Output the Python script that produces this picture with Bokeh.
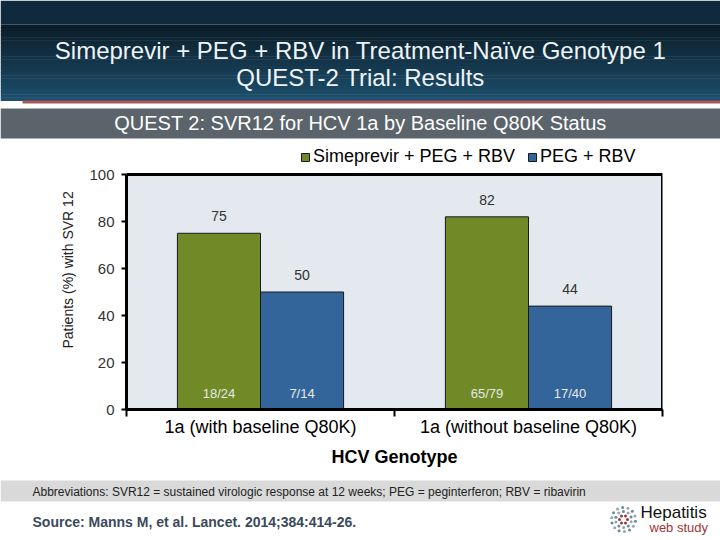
import math
from bokeh.plotting import figure
from bokeh.models import (Range1d, FixedTicker, Legend, LegendItem, Title, ColumnDataSource)
from bokeh.embed import file_html
from bokeh.resources import INLINE
from bokeh.core.properties import value

# ---------------- data ----------------
categories = ["1a (with baseline Q80K)", "1a (without baseline Q80K)"]
series = ["Simeprevir + PEG + RBV", "PEG + RBV"]
sim_values = [75, 82]
peg_values = [50, 44]
sim_counts = ["18/24", "65/79"]
peg_counts = ["7/14", "17/40"]
y_ticks = [0, 20, 40, 60, 80, 100]

FONT = "Liberation Sans"
GREEN = "#6f8a27"
BLUE = "#33659a"
W = 720


def panel(height, y_top, y_bottom):
    f = figure(width=W, height=height, x_range=Range1d(0, W),
               y_range=Range1d(y_bottom, y_top), x_axis_type=None, y_axis_type=None,
               output_backend="svg", toolbar_location=None, min_border=0)
    f.grid.visible = False
    f.outline_line_color = None
    f.background_fill_color = "white"
    f.border_fill_color = "white"
    return f


def hexmix(c1, c2, t):
    a = [int(c1[i:i + 2], 16) for i in (1, 3, 5)]
    b = [int(c2[i:i + 2], 16) for i in (1, 3, 5)]
    return "#" + "".join("%02x" % int(round(a[k] + (b[k] - a[k]) * t)) for k in range(3))


def txt(f, x, y, s, size, color, align="left", style="normal"):
    f.text(x=[x], y=[y], text=[s], text_align=align, text_baseline="middle",
           text_font=value(FONT), text_font_size=size, text_color=color, text_font_style=style)


# ---------------- header ----------------
hdr = panel(140, 0, 140)
hdr.quad(left=[0], right=[720], top=[0], bottom=[24], fill_color="#0e2a3c", line_color=None)
n = 24
tops = [24 + 76 * i / n for i in range(n)]
bots = [24 + 76 * (i + 1) / n + 0.5 for i in range(n)]
cols = [hexmix("#0b1d29", "#1d4e6b", i / (n - 1)) for i in range(n)]
hdr.quad(left=[0] * n, right=[720] * n, top=tops, bottom=bots, fill_color=cols, line_color=None)
hdr.quad(left=[22], right=[720], top=[100], bottom=[103], fill_color="#a85a5a", line_color=None)
hdr.quad(left=[0], right=[720], top=[108], bottom=[138], fill_color="#5b636b", line_color=None)
txt(hdr, 360, 50, "Simeprevir + PEG + RBV in Treatment-Naïve Genotype 1", "24px", "#eef4f6", "center")
txt(hdr, 360, 77, "QUEST-2 Trial: Results", "24px", "#eef4f6", "center")
txt(hdr, 360, 122, "QUEST 2: SVR12 for HCV 1a by Baseline Q80K Status", "20px", "#ffffff", "center")

# ---------------- chart ----------------
Y_TOP = 111.5   # extra room above 100 for the legend
p = figure(width=W, height=335, x_range=Range1d(0, len(categories)), y_range=Range1d(0, Y_TOP),
           output_backend="svg", toolbar_location=None,
           min_border_left=126, min_border_right=58, min_border_top=7, min_border_bottom=66)
p.background_fill_color = "white"
p.border_fill_color = "white"
p.outline_line_color = None
p.grid.visible = False

# plot area box (0..100)
p.quad(left=[0], right=[len(categories)], bottom=[0], top=[y_ticks[-1]],
       fill_color="#e4e8ef", line_color="black", line_width=3)

bw = 0.31
off = 0.155
xs_sim = [i + 0.5 - off for i in range(len(categories))]
xs_peg = [i + 0.5 + off for i in range(len(categories))]
src_sim = ColumnDataSource(dict(x=xs_sim, top=sim_values, lab=[str(v) for v in sim_values], cnt=sim_counts))
src_peg = ColumnDataSource(dict(x=xs_peg, top=peg_values, lab=[str(v) for v in peg_values], cnt=peg_counts))

r1 = p.vbar(x="x", top="top", width=bw, source=src_sim, fill_color=GREEN, line_color="#1a1a1a", line_width=1)
r2 = p.vbar(x="x", top="top", width=bw, source=src_peg, fill_color=BLUE, line_color="#1a1a1a", line_width=1)

for s in (src_sim, src_peg):
    p.text(x="x", y="top", text="lab", source=s, text_align="center", text_baseline="bottom",
           y_offset=-12, text_font=value(FONT), text_font_size="14px", text_color="#333333")
    p.text(x="x", y=0, text="cnt", source=s, text_align="center", text_baseline="middle",
           y_offset=-16, text_font=value(FONT), text_font_size="13px", text_color="#e8e8e8")

# y axis
p.yaxis.ticker = FixedTicker(ticks=y_ticks)
p.yaxis.bounds = (y_ticks[0], y_ticks[-1])
p.yaxis.minor_tick_line_color = None
p.yaxis.major_tick_in = 0
p.yaxis.major_tick_out = 5
p.yaxis.major_tick_line_width = 2
p.yaxis.major_tick_line_color = "black"
p.yaxis.axis_line_width = 3
p.yaxis.axis_line_color = "black"
p.yaxis.major_label_standoff = 7
p.yaxis.major_label_text_font = FONT
p.yaxis.major_label_text_font_size = "15px"
p.yaxis.major_label_text_color = "#333333"

# x axis
p.xaxis.ticker = FixedTicker(ticks=[i + 0.5 for i in range(len(categories))],
                             minor_ticks=list(range(len(categories) + 1)))
p.xaxis.major_label_overrides = {i + 0.5: c for i, c in enumerate(categories)}
p.xaxis.major_tick_in = 0
p.xaxis.major_tick_out = 0
p.xaxis.minor_tick_in = 0
p.xaxis.minor_tick_out = 7
p.xaxis.minor_tick_line_width = 2
p.xaxis.minor_tick_line_color = "black"
p.xaxis.axis_line_width = 3
p.xaxis.axis_line_color = "black"
p.xaxis.major_label_standoff = 0
p.xaxis.major_label_text_font = FONT
p.xaxis.major_label_text_font_size = "18px"
p.xaxis.major_label_text_color = "black"
p.xaxis.axis_label = "HCV Genotype"
p.xaxis.axis_label_text_font = FONT
p.xaxis.axis_label_text_font_size = "18px"
p.xaxis.axis_label_text_font_style = "bold"
p.xaxis.axis_label_text_color = "black"
p.xaxis.axis_label_standoff = 7

ylab = Title(text="Patients (%) with SVR 12", align="left", offset=61, standoff=21,
             text_font=FONT, text_font_size="14px", text_font_style="normal", text_color="#222222")
p.add_layout(ylab, "left")

legend = Legend(items=[LegendItem(label=series[0], renderers=[r1]),
                       LegendItem(label=series[1], renderers=[r2])],
                orientation="horizontal", location=(174, 242),
                glyph_width=10, glyph_height=10, label_standoff=3, spacing=12,
                padding=0, margin=0, border_line_color=None, background_fill_alpha=0,
                label_text_font=FONT, label_text_font_size="18px", label_text_color="black")
p.add_layout(legend, "center")

# ---------------- footer ----------------
ftr = panel(65, 475, 540)
ftr.quad(left=[0], right=[720], top=[480], bottom=[501], fill_color="#d9d9d9", line_color=None)
txt(ftr, 32, 491, "Abbreviations: SVR12 = sustained virologic response at 12 weeks; PEG = peginterferon; RBV = ribavirin",
    "12px", "#222222")
txt(ftr, 32, 521, "Source: Manns M, et al. Lancet. 2014;384:414-26.", "14px", "#3a4a5c", style="bold")
txt(ftr, 640, 512, "Hepatitis", "17px", "#111111")
txt(ftr, 649, 527, "web study", "13px", "#a33333")
dx, dy, dc = [], [], []
for ring, (rad, cnt) in enumerate([(4, 6), (8, 10), (12, 14)]):
    for k in range(cnt):
        a = 2 * math.pi * k / cnt + ring * 0.3
        dx.append(623 + rad * math.cos(a))
        dy.append(519 + rad * math.sin(a))
        dc.append("#9a3a3a" if ring == 0 else ("#5f8f9a" if k % 2 else "#9aa4aa"))
ftr.scatter(x=dx, y=dy, size=3, fill_color=dc, line_color=None)

open("out.html", "w").write(file_html([hdr, p, ftr], INLINE))
